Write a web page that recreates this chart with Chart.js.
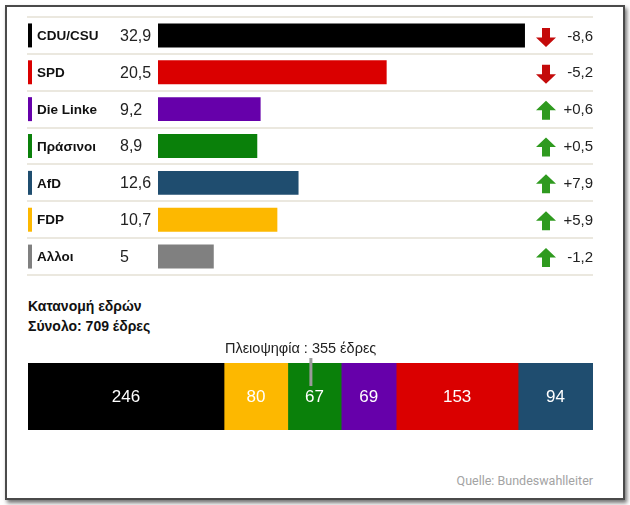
<!DOCTYPE html>
<html>
<head>
<meta charset="utf-8">
<script src="https://cdn.jsdelivr.net/npm/chart.js@4.4.0/dist/chart.umd.min.js"></script>
<style>
  body { margin: 0; background: #fff; font-family: "Liberation Sans", Arial, sans-serif; }
  #page { position: relative; width: 630px; height: 505px; overflow: hidden; background: #fff; }
  #frame {
    position: absolute; left: 5px; top: 5px; width: 616px; height: 491px;
    border: 2px solid #4a4a4a; background: #fff;
    box-shadow: 2px 3px 4px rgba(0, 0, 0, 0.55);
  }
  #shares { position: absolute; left: 0; top: 0; }
  #seats { position: absolute; left: 0; top: 290px; }
  .title { position: absolute; left: 28px; top: 296px; font-weight: bold; font-size: 14px; line-height: 20px; color: #111; }
  .source { position: absolute; right: 37px; top: 473px; font-family: Roboto, sans-serif; font-size: 12.5px; color: #a3a3a3; }
</style>
</head>
<body>
<div id="page">
  <div id="frame"></div>
  <canvas id="shares" width="630" height="290"></canvas>
  <div class="title">Κατανομή εδρών<br>Σύνολο: 709 έδρες</div>
  <canvas id="seats" width="630" height="170"></canvas>
  <div class="source">Quelle: Bundeswahlleiter</div>
</div>
<script>
// ---- Stimmenanteil (%) ----
const parties = ['CDU/CSU', 'SPD', 'Die Linke', 'Πράσινοι', 'AfD', 'FDP', 'Αλλοι'];
const shares = [32.9, 20.5, 9.2, 8.9, 12.6, 10.7, 5];
const changes = [-8.6, -5.2, 0.6, 0.5, 7.9, 5.9, -1.2];
const trend = ['down', 'down', 'up', 'up', 'up', 'up', 'up'];
const partyColors = ['#000000', '#da0000', '#6600aa', '#0a800a', '#1f4d6f', '#fdb800', '#808080'];

// ---- Sitzverteilung ----
const seatParties = ['CDU/CSU', 'FDP', 'Πράσινοι', 'Die Linke', 'SPD', 'AfD'];
const seats = [246, 80, 67, 69, 153, 94];
const seatColors = ['#000000', '#fdb800', '#0a800a', '#6600aa', '#da0000', '#1f4d6f'];
const totalSeats = 709;
const majority = 355;

const FONT = '"Liberation Sans", Arial, sans-serif';

function fmt(v, sign) {
    let s = String(v).replace('.', ',');
    if (sign && v > 0) s = '+' + s;
    return s;
}

function drawArrow(ctx, x, y, up, color) {
    const d = up ? -1 : 1;
    ctx.fillStyle = color;
    ctx.beginPath();
    ctx.moveTo(x, y + d * 10);          // Spitze
    ctx.lineTo(x + 10, y + d * 0.5);
    ctx.lineTo(x + 4, y + d * 0.5);
    ctx.lineTo(x + 4, y - d * 9);
    ctx.lineTo(x - 4, y - d * 9);
    ctx.lineTo(x - 4, y + d * 0.5);
    ctx.lineTo(x - 10, y + d * 0.5);
    ctx.closePath();
    ctx.fill();
}

/* -------------------- OBEN: Balken -------------------- */
const rowPlugin = {
    id: 'rows',
    beforeDatasetsDraw(chart) {
        const ctx = chart.ctx, area = chart.chartArea;
        const step = (area.bottom - area.top) / parties.length;
        ctx.save();
        ctx.strokeStyle = '#e4e0d5';
        ctx.lineWidth = 1.5;
        for (let i = 0; i <= parties.length; i++) {
            const py = Math.round(area.top + i * step);
            ctx.beginPath();
            ctx.moveTo(27, py);
            ctx.lineTo(area.right, py);
            ctx.stroke();
        }
        ctx.restore();
    },
    afterDatasetsDraw(chart) {
        const ctx = chart.ctx, area = chart.chartArea;
        const meta = chart.getDatasetMeta(0);
        ctx.save();
        ctx.textBaseline = 'middle';
        meta.data.forEach((bar, i) => {
            const cy = bar.y, h = bar.height;
            ctx.fillStyle = partyColors[i];
            ctx.fillRect(28, cy - h / 2, 4, h);

            ctx.fillStyle = '#111';
            ctx.textAlign = 'left';
            ctx.font = 'bold 13.5px ' + FONT;
            ctx.fillText(parties[i], 37, cy + 1);

            ctx.fillStyle = '#222';
            ctx.font = '16px ' + FONT;
            ctx.fillText(fmt(shares[i]), 120, cy + 1);

            drawArrow(ctx, area.right - 47, cy + 1.5, trend[i] === 'up',
                trend[i] === 'up' ? '#2f9a1f' : '#c40a0a');

            ctx.fillStyle = '#222';
            ctx.textAlign = 'right';
            ctx.font = '15px ' + FONT;
            ctx.fillText(fmt(changes[i], true), area.right, cy + 1);
        });
        ctx.restore();
    }
};

new Chart(document.getElementById('shares'), {
    type: 'bar',
    data: {
        labels: parties,
        datasets: [{
            data: shares,
            backgroundColor: partyColors,
            barPercentage: 0.65,
            categoryPercentage: 1
        }]
    },
    options: {
        indexAxis: 'y',
        responsive: false,
        animation: false,
        layout: { padding: { left: 158, right: 37, top: 17, bottom: 15 } },
        scales: {
            x: { display: false, min: 0, max: 39 },
            y: { display: false }
        },
        plugins: { legend: { display: false }, tooltip: { enabled: false } }
    },
    plugins: [rowPlugin]
});

/* -------------------- UNTEN: Sitze -------------------- */
const seatPlugin = {
    id: 'seatLabels',
    afterDatasetsDraw(chart) {
        const ctx = chart.ctx, area = chart.chartArea;
        ctx.save();
        ctx.textAlign = 'center';
        ctx.textBaseline = 'middle';
        ctx.font = '17px ' + FONT;
        ctx.fillStyle = '#fff';
        chart.data.datasets.forEach((ds, i) => {
            const bar = chart.getDatasetMeta(i).data[0];
            ctx.fillText(String(ds.data[0]), (bar.x + bar.base) / 2, bar.y + 1);
        });

        // Mehrheitsmarke
        const mx = chart.scales.x.getPixelForValue(majority);
        ctx.strokeStyle = '#9a9a9a';
        ctx.lineWidth = 3;
        ctx.beginPath();
        ctx.moveTo(mx, area.top - 5);
        ctx.lineTo(mx, area.top + 23);
        ctx.stroke();

        ctx.font = '14.5px ' + FONT;
        ctx.fillStyle = '#222';
        ctx.textAlign = 'left';
        const pre = 'Πλειοψηφία : ';
        const w = ctx.measureText(pre).width;
        ctx.fillText(pre + majority + ' έδρες', mx - w + 1, area.top - 14);
        ctx.restore();
    }
};

new Chart(document.getElementById('seats'), {
    type: 'bar',
    data: {
        labels: ['Έδρες'],
        datasets: seatParties.map((p, i) => ({
            label: p,
            data: [seats[i]],
            backgroundColor: seatColors[i],
            barPercentage: 1,
            categoryPercentage: 1
        }))
    },
    options: {
        indexAxis: 'y',
        responsive: false,
        animation: false,
        layout: { padding: { left: 28, right: 37, top: 73, bottom: 30 } },
        scales: {
            x: { stacked: true, display: false, min: 0, max: totalSeats },
            y: { stacked: true, display: false }
        },
        plugins: { legend: { display: false }, tooltip: { enabled: false } }
    },
    plugins: [seatPlugin]
});
</script>
</body>
</html>
